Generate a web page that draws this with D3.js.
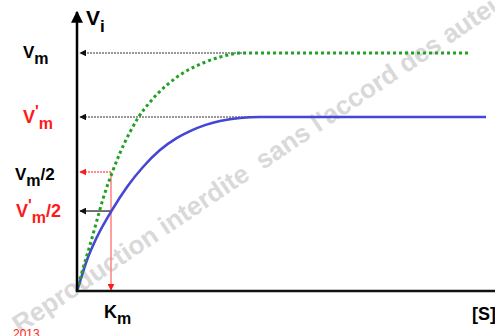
<!DOCTYPE html>
<html><head><meta charset="utf-8">
<script src="https://cdn.jsdelivr.net/npm/d3@7"></script>
<style>html,body{margin:0;padding:0;background:#fff;}svg{display:block;}</style>
</head><body><svg id="c" width="495" height="336"></svg>
<script>
// substrate concentration (arbitrary units) and rates (Vm = 100)
const greenS = [0, 1.25, 3.25, 5.0, 6.5, 8.75, 10.75, 13.25, 15.25, 18.25, 22.5, 26.5, 31.5, 35.75, 41.5, 98];
const greenV = [0, 8.0, 19.3, 29.8, 38.7, 49.6, 58.0, 66.8, 72.7, 79.4, 86.6, 91.6, 95.8, 98.3, 100, 100];
const blueS = [0, 1.25, 2.5, 5, 8.75, 12.5, 16.5, 20.75, 25, 28.25, 32, 35.75, 40.75, 45.75, 102.25];
const blueV = [0, 6.7, 13.0, 22.7, 34.0, 43.7, 52.1, 59.2, 64.3, 67.2, 69.7, 71.4, 72.7, 73.1, 73.1];
const Vm = 100, VmP = 73.1, VmHalf = 50, VmPHalf = 33.6, Km = 8.5;
const VmEnd = 42, VmPEnd = 46;

const svg = d3.select("#c");
const x = d3.scaleLinear().domain([0, 105]).range([77, 497]);
const y = d3.scaleLinear().domain([0, 100]).range([291, 53]);
const font = "'Liberation Sans', Arial, sans-serif";
const red = "#ff1a1a";

const defs = svg.append("defs");
function marker(id, color, size) {
  defs.append("marker").attr("id", id).attr("viewBox", "0 0 10 10")
    .attr("refX", 9).attr("refY", 5).attr("markerWidth", size).attr("markerHeight", size)
    .attr("markerUnits", "userSpaceOnUse").attr("orient", "auto")
    .append("path").attr("d", "M0,0 L10,5 L0,10 Z").attr("fill", color);
}
marker("ab", "#111", 7);
marker("ar", red, 7);
marker("axis", "#000", 12);

// watermark
svg.append("text").attr("transform", "translate(20,334) rotate(-34)")
  .attr("font-family", font).attr("font-weight", "bold").attr("font-size", 26)
  .attr("fill", "#d9d9d9").attr("xml:space", "preserve")
  .text("Reproduction interdite  sans l'accord des auteurs");

// reference lines
const ref = svg.append("g");
ref.append("line").attr("x1", x(VmEnd)).attr("x2", x(0) + 3).attr("y1", y(Vm)).attr("y2", y(Vm))
  .attr("stroke", "#333").attr("stroke-width", 1.2).attr("stroke-dasharray", "2,1").attr("marker-end", "url(#ab)");
ref.append("line").attr("x1", x(VmPEnd)).attr("x2", x(0) + 3).attr("y1", y(VmP)).attr("y2", y(VmP))
  .attr("stroke", "#333").attr("stroke-width", 1.2).attr("stroke-dasharray", "2,1").attr("marker-end", "url(#ab)");
ref.append("line").attr("x1", x(Km)).attr("x2", x(0) + 3).attr("y1", y(VmHalf)).attr("y2", y(VmHalf))
  .attr("stroke", red).attr("stroke-width", 1.2).attr("stroke-dasharray", "2,1").attr("marker-end", "url(#ar)");
ref.append("line").attr("x1", x(Km)).attr("x2", x(0) + 3).attr("y1", y(VmPHalf)).attr("y2", y(VmPHalf))
  .attr("stroke", "#444").attr("stroke-width", 1.5).attr("marker-end", "url(#ab)");
ref.append("line").attr("x1", x(Km)).attr("x2", x(Km)).attr("y1", y(VmHalf)).attr("y2", y(0) - 1)
  .attr("stroke", "#ff8080").attr("stroke-width", 1.5).attr("marker-end", "url(#ar)");

// curves
const line = d3.line().x(d => x(d[0])).y(d => y(d[1])).curve(d3.curveMonotoneX);
svg.append("path").datum(blueS.map((s, i) => [s, blueV[i]])).attr("d", line)
  .attr("fill", "none").attr("stroke", "#4545d6").attr("stroke-width", 2.6);
svg.append("path").datum(greenS.map((s, i) => [s, greenV[i]])).attr("d", line)
  .attr("fill", "none").attr("stroke", "#22a022").attr("stroke-width", 3).attr("stroke-dasharray", "3,3");

// axes
svg.append("line").attr("x1", x(0)).attr("x2", x(0)).attr("y1", y(0) + 1).attr("y2", 12)
  .attr("stroke", "#000").attr("stroke-width", 2.5).attr("marker-end", "url(#axis)");
svg.append("line").attr("x1", x(0) - 1).attr("x2", 495).attr("y1", y(0)).attr("y2", y(0))
  .attr("stroke", "#111").attr("stroke-width", 2.5);

// labels
function label(px, py, parts, color) {
  const t = svg.append("text").attr("x", px).attr("y", py).attr("font-family", font)
    .attr("font-weight", "bold").attr("fill", color);
  parts.forEach(p => {
    const ts = t.append("tspan").attr("font-size", p.size).text(p.t);
    if (p.dy) ts.attr("dy", p.dy);
  });
}
label(86, 25, [{t: "V", size: 21}, {t: "i", size: 17, dy: 7}], "#000");
label(23, 58, [{t: "V", size: 17}, {t: "m", size: 16, dy: 6}], "#000");
label(23, 123, [{t: "V", size: 18}, {t: "'", size: 16, dy: -6}, {t: "m", size: 16, dy: 12}], red);
label(15, 180, [{t: "V", size: 17}, {t: "m", size: 16, dy: 6}, {t: "/2", size: 17, dy: -6}], "#000");
label(16, 217, [{t: "V", size: 18}, {t: "'", size: 16, dy: -6}, {t: "m", size: 16, dy: 12}, {t: "/2", size: 18, dy: -6}], red);
label(104, 318, [{t: "K", size: 18}, {t: "m", size: 16, dy: 6}], "#000");
label(472, 320, [{t: "[S]", size: 18}], "#000");
svg.append("text").attr("x", 13).attr("y", 338).attr("font-family", font).attr("font-size", 12)
  .attr("fill", red).text("2013");
</script></body></html>
